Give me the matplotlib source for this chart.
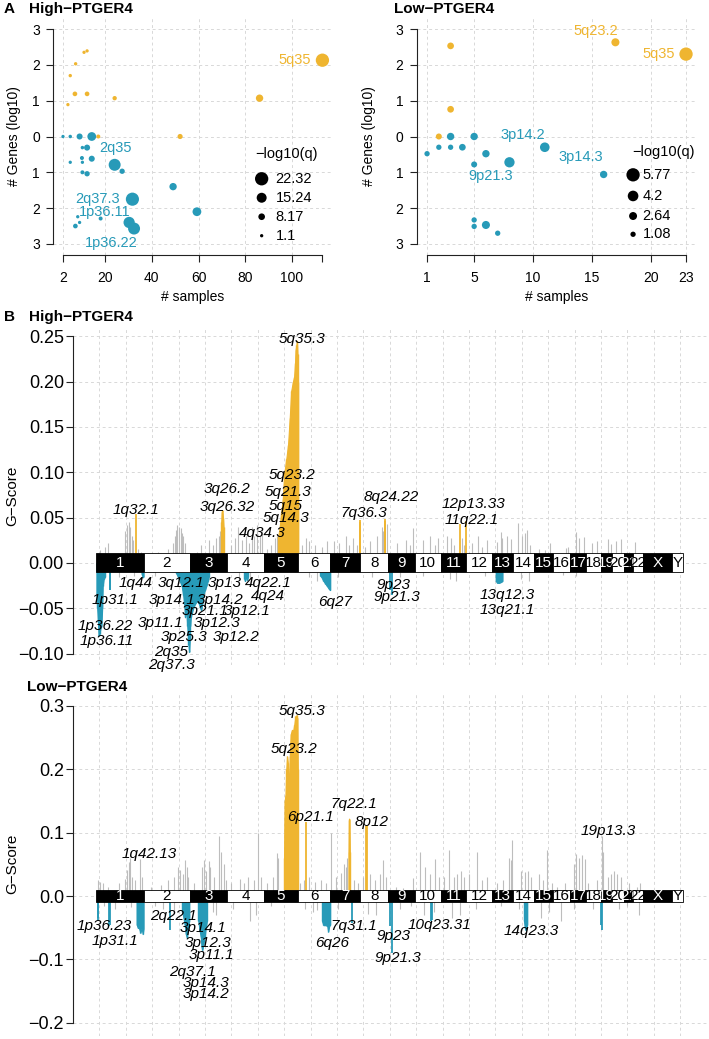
import numpy as np
import matplotlib
matplotlib.use("Agg")
import matplotlib.pyplot as plt
from matplotlib.patches import Rectangle

plt.rcParams["font.family"] = ["Liberation Sans", "DejaVu Sans"]

GOLD = "#EFB530"
BLUE = "#279AB8"
GRAY = "#BDBDBD"
GRID = "#D8D8D8"

# ---------------- panel A data (x = # samples, y = signed log10 # genes, q = -log10 q) ----
hi_amp_x = [12.3, 11, 7.4, 5.1, 7.1, 12.3, 24.1, 4.1, 86.1, 113, 52.1, 17.1]
hi_amp_y = [2.39, 2.35, 2.03, 1.70, 1.19, 1.19, 1.07, 0.89, 1.07, 2.13, 0.0, 0.0]
hi_amp_q = [1.1, 1.1, 1.3, 1.3, 4.0, 4.0, 3.3, 1.1, 9.7, 22.32, 5.0, 2.6]
hi_del_x = [2, 5.1, 9.1, 14.3, 10.3, 12.3, 10.1, 14.3, 5.1, 10.3, 24.1, 27.3, 10.3, 12.3,
            49.1, 31.7, 59.3, 8.3, 18.1, 9.1, 7.3, 30.3, 32.4]
hi_del_y = [0, 0, 0, 0, -0.31, -0.31, -0.6, -0.62, -0.72, -0.72, -0.79, -0.97, -1.0, -1.04,
            -1.40, -1.75, -2.1, -2.24, -2.29, -2.4, -2.5, -2.4, -2.57]
hi_del_q = [1.1, 1.5, 6.9, 12.7, 1.5, 6.9, 2.6, 6.9, 1.1, 1.1, 19.5, 5.4, 2.6, 5.4,
            9.7, 22.0, 12.7, 1.1, 2.6, 1.1, 4.0, 18.0, 19.5]
hi_legend_q = [22.32, 15.24, 8.17, 1.1]

lo_amp_x = [3, 3, 2, 17, 23]
lo_amp_y = [2.53, 0.76, 0.0, 2.63, 2.3]
lo_amp_q = [1.9, 1.9, 1.5, 2.7, 5.77]
lo_del_x = [1, 2, 3, 3, 4, 5, 5, 6, 8, 11, 16, 5, 5, 6, 7]
lo_del_y = [-0.48, -0.3, 0, -0.3, -0.3, 0, -0.78, -0.48, -0.72, -0.3, -1.06, -2.33, -2.51, -2.47, -2.7]
lo_del_q = [1.1, 1.1, 2.3, 1.1, 1.9, 2.3, 1.5, 2.3, 4.0, 3.6, 2.3, 1.1, 1.1, 2.7, 1.1]
lo_legend_q = [5.77, 4.2, 2.64, 1.08]

# ---------------- panel B data -------------------------------------------------------------
CHR_NAMES = [str(i) for i in range(1, 23)] + ["X", "Y"]
CHR_LEN = [249.25, 243.20, 198.02, 191.15, 180.92, 171.12, 159.14, 146.36, 141.21, 135.53,
           135.01, 133.85, 115.17, 107.35, 102.53, 90.35, 81.20, 78.08, 59.13, 63.03,
           48.13, 51.30, 155.27, 59.37]

# (chromosome, position Mb, G-score) for non significant segments
hi_gray = [
    (1, 20, .014), (1, 45, .018), (1, 60, .022), (1, 150, .035), (1, 160, .042), (1, 170, .045),
    (1, 178, .04), (1, 185, .03), (1, 195, .025), (1, 220, .015), (1, 235, .012),
    (2, 75, .012), (2, 127, .015), (2, 153, .022), (2, 165, .03), (2, 171, .036), (2, 178, .042),
    (2, 186, .04), (2, 195, .038), (2, 202, .033), (2, 208, .03), (2, 216, .022),
    (3, 40, .012), (3, 60, .02), (3, 100, .025), (3, 120, .02), (3, 140, .028), (3, 155, .03), (3, 160, .035),
    (4, 20, .02), (4, 40, .028), (4, 58, .04), (4, 75, .025), (4, 100, .03), (4, 115, .022),
    (4, 129, .04), (4, 140, .03), (4, 155, .042), (4, 170, .03), (4, 183, .035),
    (5, 20, .015), (5, 40, .02), (5, 60, .027), (5, 72, .03),
    (6, 20, .02), (6, 41, .027), (6, 58, .024), (6, 93, .02), (6, 128, .018), (6, 155, .024),
    (7, 21, .024), (7, 48, .022), (7, 83, .03), (7, 100, .02), (7, 118, .028), (7, 140, .02),
    (8, 23, .018), (8, 50, .024), (8, 85, .03), (8, 111, .04), (8, 120, .035), (8, 138, .043),
    (9, 48, .022), (9, 92, .025), (9, 115, .02), (9, 132, .038),
    (10, 44, .025), (10, 79, .03), (10, 106, .02), (10, 122, .028),
    (11, 35, .03), (11, 53, .027), (11, 70, .02), (11, 114, .028), (11, 125, .02),
    (12, 30, .022), (12, 60, .03), (12, 85, .018), (12, 110, .025),
    (13, 30, .023), (13, 48, .034), (13, 56, .028), (13, 80, .03), (13, 100, .026),
    (14, 26, .044), (14, 44, .03), (14, 62, .033), (14, 70, .036), (14, 88, .02),
    (15, 26, .015), (15, 60, .014), (15, 88, .022), (16, 65, .016), (16, 79, .017),
    (17, 30, .034), (17, 48, .027), (17, 74, .029), (18, 32, .022), (18, 58, .024),
    (19, 40, .026), (19, 55, .021), (20, 21, .024), (20, 48, .026), (21, 30, .012), (22, 10, .023),
    (1, 120, -.016), (1, 200, -.014), (2, 60, -.014), (4, 60, -.016), (4, 120, -.018),
    (6, 60, -.016), (6, 100, -.02), (7, 40, -.016), (8, 60, -.015), (9, 60, -.016),
    (10, 40, -.014), (11, 50, -.018), (11, 80, -.02), (12, 100, -.014), (14, 40, -.018),
    (14, 80, -.02), (16, 50, -.013), (17, 30, -.014),
]
# significant regions (chromosome, [positions], [G-scores])
hi_blocks = [
    (3, [166, 169, 172, 175, 178], [.045, .056, .058, .05, .04]),
    (5, [78, 85, 93, 101, 110, 120, 129, 138, 146, 155, 161, 166, 169, 173, 176, 179, 180.5],
        [.03, .04, .055, .07, .1, .115, .13, .16, .19, .2, .205, .22, .235, .24, .245, .23, .2]),
    (1, [0.5, 4, 8, 11, 16, 21, 26, 30, 33, 38, 45],
        [-.035, -.05, -.065, -.08, -.078, -.072, -.07, -.05, -.025, -.018, -.015]),
    (1, [238, 244, 248], [-.012, -.016, -.015]),
    (2, [170, 180, 190, 200, 208, 214, 218, 224, 230, 236, 240, 243],
        [-.011, -.015, -.02, -.025, -.035, -.045, -.06, -.05, -.07, -.09, -.098, -.085]),
    (3, [1, 5, 10, 18, 28, 38, 48, 55, 60, 66, 72, 80, 88, 95, 100],
        [-.07, -.06, -.055, -.05, -.045, -.042, -.045, -.05, -.052, -.045, -.035, -.03, -.025, -.02, -.015]),
    (4, [90, 93, 100, 105, 108], [-.018, -.02, -.015, -.019, -.016]),
    (6, [118, 125, 135, 145, 155, 165, 170], [-.014, -.016, -.02, -.023, -.026, -.029, -.03]),
    (13, [22, 30, 40, 50, 57], [-.02, -.022, -.022, -.021, -.02]),
]
hi_spikes = [(1, 206, .054), (7, 155, .047), (7, 157, .045), (8, 129, .048), (8, 131, .046),
             (11, 101, .043), (12, 1, .046),
             (1, 71, -.03), (1, 73, -.03), (9, 10, -.03), (9, 21, -.035)]
hi_labels = [
    ("5q35.3", 1087, .247), ("5q23.2", 1031, .097), ("5q21.3", 1013, .078), ("5q15", 999, .063),
    ("5q14.3", 1002, .049), ("4q34.3", 875, .033), ("3q26.2", 687, .081), ("3q26.32", 690, .062),
    ("1q32.1", 206, .058), ("7q36.3", 1413, .055), ("8q24.22", 1557, .073),
    ("12p13.33", 1989, .0645), ("11q22.1", 1979, .047),
    ("1q44", 206, -.022), ("1p31.1", 97, -.041), ("1p36.22", 44, -.070), ("1p36.11", 56, -.086),
    ("3q12.1", 444, -.022), ("3p13", 678, -.022), ("4q22.1", 907, -.022), ("3p14.1", 400, -.041),
    ("3p14.2", 652, -.041), ("4q24", 907, -.037), ("3p21.1", 572, -.0535), ("3p12.1", 796, -.0535),
    ("3p11.1", 338, -.066), ("3p12.3", 638, -.066), ("3p25.3", 461, -.082), ("3p12.2", 735, -.082),
    ("2q35", 394, -.098), ("2q37.3", 394, -.113), ("6q27", 1260, -.043), ("9p23", 1568, -.024),
    ("9p21.3", 1586, -.038), ("13q12.3", 2165, -.035), ("13q21.1", 2165, -.052),
]

lo_gray = [
    (1, 8, .025), (1, 20, .022), (1, 35, .02), (1, 60, .015), (1, 120, .02), (1, 150, .027),
    (1, 160, .041), (1, 170, .054), (1, 178, .06), (1, 190, .03), (1, 205, .025), (1, 230, .058), (1, 240, .03),
    (2, 40, .015), (2, 90, .018), (2, 127, .025), (2, 160, .03), (2, 180, .046), (2, 193, .041),
    (2, 205, .035), (2, 219, .056), (2, 228, .045), (2, 236, .03),
    (3, 20, .02), (3, 65, .045), (3, 74, .057), (3, 83, .04), (3, 100, .055), (3, 109, .045),
    (3, 130, .03), (3, 153, .094), (3, 162, .07), (3, 180, .05), (3, 190, .025),
    (4, 20, .02), (4, 66, .027), (4, 90, .02), (4, 110, .03), (4, 140, .025), (4, 164, .1), (4, 175, .03),
    (5, 20, .02), (5, 50, .03), (5, 70, .068), (5, 78, .06),
    (6, 10, .02), (6, 30, .025), (6, 58, .03), (6, 90, .022), (6, 120, .025), (6, 150, .02),
    (7, 3, .099), (7, 30, .03), (7, 56, .036), (7, 74, .05), (7, 83, .045), (7, 90, .06), (7, 127, .025), (7, 145, .02),
    (8, 14, .03), (8, 50, .035), (8, 76, .025), (8, 103, .035), (8, 121, .057), (8, 135, .03),
    (9, 40, .015), (9, 80, .012), (9, 130, .028),
    (10, 26, .07), (10, 53, .045), (10, 79, .035), (10, 106, .058), (10, 125, .03),
    (11, 20, .03), (11, 44, .072), (11, 70, .03), (11, 88, .035), (11, 106, .04), (11, 125, .03),
    (12, 14, .035), (12, 58, .07), (12, 85, .025), (12, 110, .03),
    (13, 30, .02), (13, 60, .025), (13, 92, .06), (13, 100, .057), (13, 108, .088),
    (14, 40, .04), (14, 60, .038), (14, 75, .04), (14, 95, .03),
    (15, 26, .035), (15, 50, .025), (15, 70, .072), (15, 95, .02), (16, 20, .015), (16, 60, .02),
    (17, 20, .05), (17, 30, .066), (17, 45, .06), (17, 60, .065), (17, 75, .058),
    (18, 10, .02), (18, 60, .025), (19, 8, .094), (19, 12, .07), (19, 40, .03), (19, 55, .035),
    (20, 10, .04), (20, 30, .035), (20, 50, .03), (21, 30, .02), (22, 20, .015), (22, 40, .02),
    (1, 40, -.015), (1, 100, -.02), (1, 180, -.018), (2, 60, -.015), (2, 100, -.02), (2, 160, -.025),
    (3, 120, -.025), (3, 140, -.03), (4, 30, -.02), (4, 120, -.04), (4, 150, -.03), (5, 40, -.015),
    (6, 40, -.02), (6, 80, -.025), (6, 100, -.022), (7, 40, -.02), (8, 40, -.028), (8, 80, -.03),
    (9, 60, -.02), (9, 120, -.015), (10, 50, -.03), (10, 100, -.025), (11, 60, -.035), (11, 100, -.03),
    (12, 50, -.02), (13, 50, -.015), (14, 30, -.02), (15, 40, -.035), (15, 80, -.025), (16, 40, -.04),
    (17, 20, -.02), (18, 40, -.02), (20, 40, -.02), (21, 20, -.015), (22, 30, -.03),
]
lo_blocks = [
    (5, [108, 111, 116, 120, 124, 128, 133, 138, 143, 150, 156, 162, 168, 174, 178, 180.5],
        [.06, .15, .16, .2, .22, .21, .16, .22, .255, .262, .26, .27, .283, .285, .28, .2]),
    (7, [97, 99, 101, 103], [.07, .122, .12, .07]),
    (1, [212, 218, 225, 232, 238, 244, 248], [-.045, -.05, -.051, -.058, -.05, -.06, -.052]),
    (2, [204, 210, 216, 222, 228, 234, 240], [-.025, -.035, -.045, -.06, -.066, -.05, -.04]),
    (3, [45, 52, 58, 62, 66, 72, 78, 84, 90], [-.04, -.055, -.065, -.08, -.085, -.075, -.066, -.05, -.04]),
    (6, [128, 135, 145, 155, 160, 165, 170], [-.04, -.046, -.046, -.047, -.056, -.048, -.045]),
    (14, [56, 60, 64, 68, 72], [-.04, -.05, -.054, -.05, -.045]),
]
lo_spikes = [(6, 43, .117), (8, 30, .11), (8, 34, .112),
             (1, 7, -.035), (1, 9, -.04), (1, 68, -.048), (1, 70, -.045), (2, 137, -.054),
             (7, 112, -.043), (9, 10, -.048), (9, 22, -.09), (10, 86, -.04), (10, 89, -.038),
             (19, 5, -.045), (19, 8, -.054)]
lo_labels = [
    ("5q35.3", 1084, .292), ("5q23.2", 1043, .231), ("6p21.1", 1127, .125), ("7q22.1", 1356, .145),
    ("8p12", 1452, .117), ("1q42.13", 276, .067), ("19p13.3", 2699, .103),
    ("1p36.23", 39, -.047), ("1p31.1", 97, -.071), ("2q22.1", 405, -.0315), ("3p14.1", 562, -.05),
    ("3p12.3", 590, -.0736), ("3p11.1", 608, -.093), ("2q37.1", 505, -.119), ("3p14.3", 579, -.137),
    ("3p14.2", 579, -.155), ("6q26", 1245, -.0746), ("7q31.1", 1360, -.047), ("9p23", 1568, -.0626),
    ("9p21.3", 1589, -.098), ("10q23.31", 1809, -.0457), ("14q23.3", 2294, -.055),
]

W, H = 709, 1039
fig = plt.figure(figsize=(W / 100, H / 100), dpi=100)


def add_axes_px(left, top, right, bottom):
    return fig.add_axes([left / W, 1 - bottom / H, (right - left) / W, (bottom - top) / H])


def r_style(ax, xb=None, yb=None):
    for s in ["top", "right"]:
        ax.spines[s].set_visible(False)
    if xb is None:
        ax.spines["bottom"].set_visible(False)
        ax.tick_params(axis="x", bottom=False, labelbottom=False)
    else:
        ax.spines["bottom"].set_bounds(*xb)
    ax.spines["left"].set_bounds(*yb)
    for s in ["left", "bottom"]:
        ax.spines[s].set_linewidth(0.8)
        ax.spines[s].set_color("#222222")
    ax.tick_params(length=5, width=0.8, color="#222222", labelsize=10)
    ax.tick_params(axis="x", pad=7)
    ax.tick_params(axis="y", pad=4.5)
    ax.set_facecolor("none")


def size_of(q, q0, q1, d0, d1):
    d = d0 + (np.asarray(q) - q0) / (q1 - q0) * (d1 - d0)
    return (d * 0.72) ** 2


# ---------------- panel A ----------------
def bubble(ax, ax_x, ax_y, ax_q, dx, dy, dq, leg_q, rng, xlim, xticks, xlabels, gridx,
           notes, leg_pos):
    ax.set_xlim(*xlim)
    ax.set_ylim(-3.3, 3.3)
    for gx in gridx:
        ax.axvline(gx, color=GRID, lw=0.7, ls=(0, (3, 3)), zorder=0)
    for gy in range(-3, 4):
        ax.axhline(gy, color=GRID, lw=0.7, ls=(0, (3, 3)), zorder=0)
    ax.scatter(ax_x, ax_y, s=size_of(ax_q, *rng), color=GOLD, lw=0, zorder=3)
    ax.scatter(dx, dy, s=size_of(dq, *rng), color=BLUE, lw=0, zorder=3)
    for txt, x, y, col, ha in notes:
        ax.text(x, y, txt, color=col, fontsize=10.5, ha=ha, va="center", zorder=4)
    lx, ltx, ly, tx, ty = leg_pos
    ax.scatter([lx] * len(leg_q), ly, s=size_of(leg_q, *rng), color="black", lw=0, zorder=3)
    for q, y in zip(leg_q, ly):
        ax.text(ltx, y, f"{q:g}", fontsize=10.5, va="center", ha="left")
    ax.text(tx, ty, "\u2212log10(q)", fontsize=10.5, ha="center", va="center")
    ax.set_xticks(xticks)
    ax.set_xticklabels(xlabels)
    ax.set_yticks(range(-3, 4))
    ax.set_yticklabels([str(abs(v)) for v in range(-3, 4)])
    r_style(ax, xb=(xticks[0], xticks[-1]), yb=(-3, 3))
    ax.set_xlabel("# samples", fontsize=10)
    ax.set_ylabel("# Genes (log10)", fontsize=10)


axA1 = add_axes_px(53, 18.3, 332.8, 254.7)
bubble(axA1, hi_amp_x, hi_amp_y, hi_amp_q, hi_del_x, hi_del_y, hi_del_q, hi_legend_q,
       (1.1, 22.32, 3.3, 13.3), (-2.28, 117.44), [2, 20, 40, 60, 80, 100, 113],
       ["2", "20", "40", "60", "80", "100", ""], [2, 20, 40, 60, 80, 100],
       [("5q35", 108.3, 2.13, GOLD, "right"), ("2q35", 24.6, -0.33, BLUE, "center"),
        ("2q37.3", 17.0, -1.74, BLUE, "center"), ("1p36.11", 20.0, -2.12, BLUE, "center"),
        ("1p36.22", 22.7, -2.96, BLUE, "center")],
       (87, 93.0, [-1.18, -1.71, -2.24, -2.77], 97.7, -0.48))
axA1.xaxis.set_label_coords(0.5, -0.148)
axA1.yaxis.set_label_coords(-0.114, 0.5)

axA2 = add_axes_px(416.7, 18.3, 696.4, 254.7)
bubble(axA2, lo_amp_x, lo_amp_y, lo_amp_q, lo_del_x, lo_del_y, lo_del_q, lo_legend_q,
       (1.08, 5.77, 5.3, 13.3), (0.12, 23.88), [1, 5, 10, 15, 20, 23],
       ["1", "5", "10", "15", "20", "23"], [1, 5, 10, 15, 20, 23],
       [("5q23.2", 15.35, 2.94, GOLD, "center"), ("5q35", 22.1, 2.3, GOLD, "right"),
        ("3p14.2", 9.1, 0.05, BLUE, "center"), ("3p14.3", 14.1, -0.58, BLUE, "center"),
        ("9p21.3", 6.37, -1.1, BLUE, "center")],
       (18.5, 19.3, [-1.07, -1.66, -2.22, -2.73], 21.1, -0.42))
axA2.xaxis.set_label_coords(0.5, -0.148)
axA2.yaxis.set_label_coords(-0.146, 0.5)

# ---------------- panel B ----------------
offsets = np.concatenate([[0], np.cumsum(CHR_LEN)[:-1]])
GEN_END = float(np.sum(CHR_LEN))
XLIM = (-0.04 * GEN_END, 1.04 * GEN_END)


def gpos(ch, pos):
    return offsets[ch - 1] + np.asarray(pos, dtype=float)


def gscore(ax, gray, blocks, spikes, labels, ylim, yticks, ylabels, bar_h):
    ax.set_xlim(*XLIM)
    ax.set_ylim(*ylim)
    for gx in np.linspace(XLIM[0], XLIM[1], 25)[1:-1]:
        ax.axvline(gx, color=GRID, lw=0.7, ls=(0, (3, 3)), zorder=0)
    for gy in yticks:
        ax.axhline(gy, color=GRID, lw=0.7, ls=(0, (3, 3)), zorder=0)
    gx = [gpos(c, p) for c, p, g in gray]
    gg = [g for c, p, g in gray]
    ax.vlines(gx, 0, gg, color=GRAY, lw=0.8, zorder=1)
    for c, ps, gs in blocks:
        col = GOLD if gs[0] > 0 else BLUE
        xs = gpos(c, ps)
        ax.fill_between(xs, 0, gs, color=col, lw=0.8, zorder=2)
        ax.vlines(xs, 0, gs, color=col, lw=1.0, zorder=2)
    for c, p, g in spikes:
        ax.vlines(gpos(c, p), 0, g, color=GOLD if g > 0 else BLUE, lw=1.3, zorder=2)
    for i, (nm, ln) in enumerate(zip(CHR_NAMES, CHR_LEN)):
        dark = i % 2 == 0
        ax.add_patch(Rectangle((offsets[i], -bar_h), ln, 2 * bar_h,
                               facecolor="black" if dark else "white",
                               edgecolor="black", lw=0.6, zorder=4))
    for i, (nm, ln) in enumerate(zip(CHR_NAMES, CHR_LEN)):
        dark = i % 2 == 0
        ax.text(offsets[i] + ln / 2, 0, nm, color="white" if dark else "black",
                fontsize=11, ha="center", va="center", zorder=5)
    for txt, x, y in labels:
        ax.text(x, y, txt, fontsize=11, style="italic", ha="center", va="center", zorder=6)
    ax.set_yticks(yticks)
    ax.set_yticklabels(ylabels)
    r_style(ax, yb=(yticks[-1], yticks[0]))
    ax.tick_params(axis="y", labelsize=13, pad=1.5)
    ax.set_ylabel("G\u2212Score", fontsize=11)
    ax.yaxis.set_label_coords(-0.085, 0.5)


axB1 = add_axes_px(73, 328, 706.7, 664.5)
gscore(axB1, hi_gray, hi_blocks, hi_spikes, hi_labels, (-0.112, 0.259),
       [0.25, 0.20, 0.15, 0.10, 0.05, 0.0, -0.05, -0.10],
       ["0.25", "0.20", "0.15", "0.10", "0.05", "0.00", "\u22120.05", "\u22120.10"], 0.0105)

axB2 = add_axes_px(73, 693, 706.7, 1035.6)
gscore(axB2, lo_gray, lo_blocks, lo_spikes, lo_labels, (-0.22, 0.32),
       [0.3, 0.2, 0.1, 0.0, -0.1, -0.2],
       ["0.3", "0.2", "0.1", "0.0", "\u22120.1", "\u22120.2"], 0.01)

# panel titles
fig.text(4 / W, 1 - 9.3 / H, "A", fontsize=11, fontweight="bold", va="center")
fig.text(29 / W, 1 - 9.3 / H, "High\u2212PTGER4", fontsize=11, fontweight="bold", va="center")
fig.text(394 / W, 1 - 9.3 / H, "Low\u2212PTGER4", fontsize=11, fontweight="bold", va="center")
fig.text(4 / W, 1 - 316.7 / H, "B", fontsize=11, fontweight="bold", va="center")
fig.text(29 / W, 1 - 316.7 / H, "High\u2212PTGER4", fontsize=11, fontweight="bold", va="center")
fig.text(27 / W, 1 - 686.7 / H, "Low\u2212PTGER4", fontsize=11, fontweight="bold", va="center")

fig.savefig("out.png", dpi=100, facecolor="white")
